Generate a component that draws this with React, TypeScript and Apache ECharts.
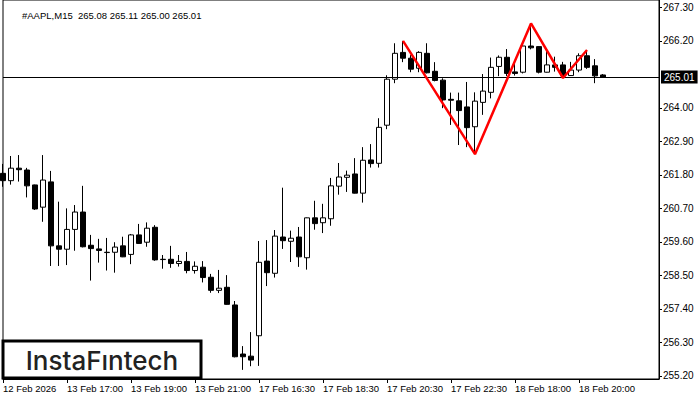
import React, { useEffect, useRef } from "react";
import * as echarts from "echarts";

// [open, close, low, high] per 15-minute bar
const candles: number[][] = [
  [261.85, 261.61, 261.41, 262.16],
  [261.61, 262.02, 261.48, 262.42],
  [262.02, 261.97, 261.58, 262.45],
  [261.96, 261.44, 261.06, 262.03],
  [261.47, 260.68, 260.65, 261.48],
  [260.74, 261.63, 260.26, 262.45],
  [261.57, 259.47, 258.81, 261.93],
  [259.47, 259.36, 258.81, 260.92],
  [259.36, 260.01, 258.84, 260.70],
  [260.01, 260.58, 259.31, 260.81],
  [260.58, 259.44, 259.42, 261.44],
  [259.49, 259.38, 258.33, 259.83],
  [259.37, 259.32, 258.92, 259.70],
  [259.26, 259.25, 258.66, 259.73],
  [259.26, 259.43, 258.59, 259.59],
  [259.47, 259.11, 259.10, 259.77],
  [259.19, 259.83, 258.87, 259.86],
  [259.83, 259.55, 259.54, 260.19],
  [259.59, 260.05, 259.44, 260.24],
  [260.08, 259.01, 258.98, 260.15],
  [259.03, 259.02, 258.72, 259.17],
  [259.03, 258.89, 258.75, 259.47],
  [258.89, 258.96, 258.79, 259.17],
  [258.96, 258.66, 258.57, 259.27],
  [258.66, 258.80, 258.56, 258.96],
  [258.77, 258.43, 258.27, 258.97],
  [258.44, 258.01, 257.93, 258.55],
  [258.01, 258.08, 257.92, 258.68],
  [258.11, 257.55, 257.54, 258.51],
  [257.53, 255.83, 255.81, 257.66],
  [255.92, 255.83, 255.40, 256.18],
  [255.85, 255.72, 255.52, 256.64],
  [256.52, 258.93, 255.53, 259.63],
  [258.97, 258.59, 258.15, 259.66],
  [258.57, 259.79, 258.43, 259.99],
  [259.76, 259.64, 259.37, 261.38],
  [259.62, 259.72, 258.94, 259.97],
  [259.76, 259.11, 258.78, 260.09],
  [259.08, 260.39, 258.69, 260.40],
  [260.39, 260.20, 260.00, 260.95],
  [260.23, 260.39, 259.89, 260.85],
  [260.36, 261.44, 260.13, 261.70],
  [261.43, 261.73, 261.15, 262.19],
  [261.72, 261.79, 261.24, 261.94],
  [261.83, 261.20, 261.19, 262.35],
  [261.20, 262.28, 260.89, 262.71],
  [262.29, 262.17, 262.04, 262.81],
  [262.18, 263.36, 262.04, 263.66],
  [263.43, 264.94, 263.30, 265.07],
  [264.94, 265.79, 264.81, 266.12],
  [265.82, 265.63, 265.50, 266.20],
  [265.63, 265.27, 265.17, 265.73],
  [265.30, 265.82, 265.17, 265.86],
  [265.79, 265.15, 265.13, 266.12],
  [265.20, 264.90, 264.87, 265.50],
  [264.91, 264.26, 263.99, 264.97],
  [264.28, 264.25, 263.44, 264.50],
  [264.23, 263.91, 262.78, 264.50],
  [264.03, 263.35, 262.71, 264.85],
  [263.38, 264.22, 262.48, 264.51],
  [264.18, 264.55, 263.77, 265.11],
  [264.51, 265.33, 264.31, 265.65],
  [265.36, 265.66, 265.04, 265.72],
  [265.66, 265.13, 265.04, 265.93],
  [265.18, 265.13, 265.06, 265.47],
  [265.17, 266.03, 265.13, 266.07],
  [266.03, 265.97, 265.92, 266.77],
  [266.01, 265.17, 265.13, 266.02],
  [265.17, 265.41, 265.16, 265.95],
  [265.41, 265.33, 265.19, 265.68],
  [265.41, 265.06, 264.98, 265.51],
  [265.06, 265.24, 265.05, 265.51],
  [265.24, 265.71, 265.17, 265.79],
  [265.71, 265.33, 265.28, 265.90],
  [265.38, 265.05, 264.81, 265.60],
  [265.08, 265.01, 265.00, 265.11],
];

// empty bars of chart shift to the right of the last candle
const emptySlots = 7;

const xTickLabels = [
  "12 Feb 2026",
  "13 Feb 17:00",
  "13 Feb 19:00",
  "13 Feb 21:00",
  "17 Feb 16:30",
  "17 Feb 18:30",
  "17 Feb 20:30",
  "17 Feb 22:30",
  "18 Feb 18:00",
  "18 Feb 20:00",
];
const barsPerLabel = 8;

// 265.10 is hidden behind the last-price tag in the reference
const yTicks = [
  255.2, 256.3, 257.4, 258.5, 259.6, 260.7, 261.8, 262.9, 264.0, 266.2, 267.3,
];

const lastPrice = 265.01;
const titleText = "#AAPL,M15  265.08 265.11 265.00 265.01";

// head-and-shoulders outline (bar index, price)
const patternIdx = [50, 59, 66, 70, 73];
const patternPrice = [266.2, 262.48, 266.77, 264.98, 265.9];

export default function App() {
  const ref = useRef<HTMLDivElement>(null);

  useEffect(() => {
    if (!ref.current) return;
    const chart = echarts.init(ref.current, null, { renderer: "svg" });
    const total = candles.length + emptySlots;
    const categories = Array.from({ length: total }, (_, i) => String(i));
    const showTick = (i: number) =>
      i % barsPerLabel === 0 && i / barsPerLabel < xTickLabels.length;

    chart.setOption({
      animation: false,
      backgroundColor: "#fff",
      title: {
        text: titleText,
        left: 17,
        top: 5,
        textStyle: {
          fontFamily: "Liberation Sans",
          fontSize: 9.5,
          fontWeight: "normal",
          color: "#000",
        },
      },
      grid: {
        left: 3,
        right: 41,
        top: 0,
        bottom: 21,
        show: true,
        borderColor: "#000",
        borderWidth: 1,
        backgroundColor: "#fff",
      },
      xAxis: {
        type: "category",
        data: categories,
        boundaryGap: false,
        axisLine: { show: true, lineStyle: { color: "#000", width: 1 } },
        axisTick: {
          show: true,
          interval: (i: number) => showTick(i),
          length: 4,
          lineStyle: { color: "#000" },
        },
        axisLabel: {
          show: true,
          interval: (i: number) => showTick(i),
          formatter: (_v: string, i: number) =>
            showTick(i) ? xTickLabels[i / barsPerLabel] : "",
          align: "left",
          margin: 4,
          fontFamily: "Liberation Sans",
          fontSize: 9.5,
          color: "#000",
        },
        splitLine: { show: false },
      },
      yAxis: {
        type: "value",
        position: "right",
        min: 255.1,
        max: 267.54,
        scale: true,
        axisLine: { show: true, lineStyle: { color: "#000", width: 1 } },
        axisTick: {
          show: true,
          customValues: yTicks,
          length: 3,
          lineStyle: { color: "#000" },
        },
        axisLabel: {
          show: true,
          customValues: yTicks,
          formatter: (v: number) => v.toFixed(2),
          margin: 4,
          fontFamily: "Liberation Sans",
          fontSize: 10,
          color: "#000",
        },
        splitLine: { show: false },
      },
      series: [
        {
          type: "candlestick",
          data: candles,
          barWidth: 5,
          clip: true,
          itemStyle: {
            color: "#fff",
            color0: "#000",
            borderColor: "#000",
            borderColor0: "#000",
            borderWidth: 1,
          },
          markLine: {
            silent: true,
            symbol: ["none", "none"],
            lineStyle: { color: "#000", width: 1, type: "solid" },
            label: {
              show: true,
              position: "end",
              distance: 2,
              formatter: lastPrice.toFixed(2),
              backgroundColor: "#000",
              color: "#fff",
              padding: [2, 3, 1, 3],
              fontFamily: "Liberation Sans",
              fontSize: 10,
            },
            data: [{ yAxis: lastPrice }],
          },
        },
        {
          type: "line",
          data: patternIdx.map((idx, k) => [idx, patternPrice[k]]),
          showSymbol: false,
          symbol: "none",
          lineStyle: { color: "#ff0000", width: 2.5 },
          z: 5,
        },
      ],
      graphic: [
        {
          type: "rect",
          shape: { x: 3, y: 341, width: 198, height: 37 },
          style: { fill: "#fff", stroke: "#000", lineWidth: 3 },
          z: 100,
        },
        {
          type: "text",
          x: 102,
          y: 360,
          style: {
            text: "InstaFıntech",
            align: "center",
            verticalAlign: "middle",
            fontFamily: "Inter",
            fontSize: 26,
            fontWeight: 500,
            fill: "#222",
          },
          z: 101,
        },
      ],
    });

    return () => chart.dispose();
  }, []);

  return (
    <div
      ref={ref}
      style={{
        position: "fixed",
        left: 0,
        top: 0,
        width: 700,
        height: 400,
        background: "#fff",
      }}
    />
  );
}
